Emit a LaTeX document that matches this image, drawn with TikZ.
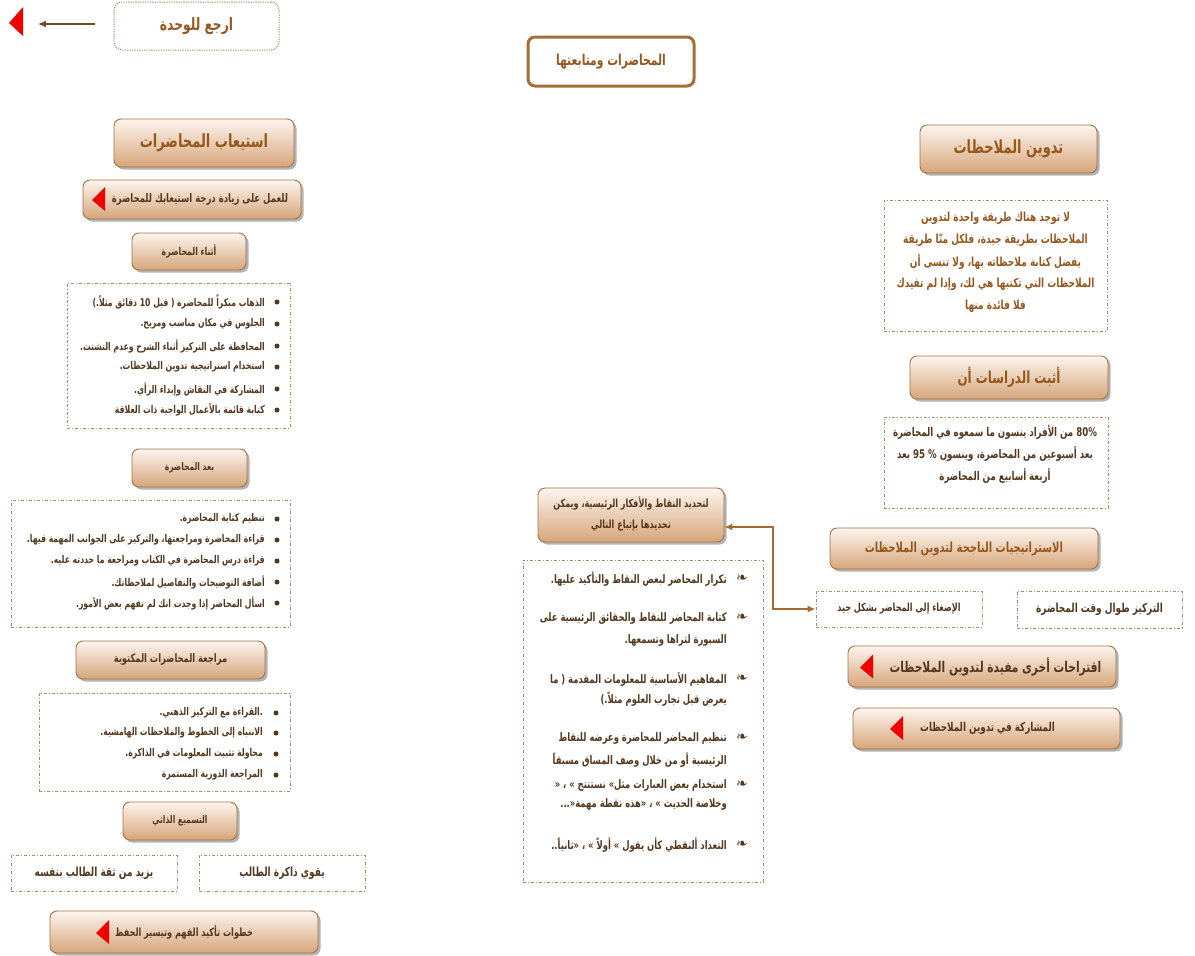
\documentclass[tikz,border=0pt]{standalone}
\usepackage{fontspec}
\newfontfamily\arabicfont[Script=Arabic,FakeStretch=0.72]{DejaVu Sans}
\newfontfamily\symfont{DejaVu Sans}
\TeXXeTstate=1
\usetikzlibrary{shadows}
\usetikzlibrary{arrows.meta}

\definecolor{headtext}{RGB}{150,88,30}
\definecolor{itemtext}{RGB}{85,55,30}
\definecolor{boxline}{RGB}{165,115,70}
\definecolor{boxtop}{RGB}{253,245,238}
\definecolor{boxbot}{RGB}{214,165,122}
\definecolor{dashline}{RGB}{175,135,95}
\definecolor{titleline}{RGB}{168,108,55}
\definecolor{linkline}{RGB}{165,105,50}
\definecolor{tipred}{RGB}{240,0,0}
\definecolor{backarrow}{RGB}{105,75,45}

\newcommand{\ar}[1]{{\arabicfont\bfseries\beginR #1\endR}}
\newcommand{\num}[1]{\beginL #1\endL{}}
\newcommand{\redtip}[2]{\fill[tipred] (#1+13,#2-12) -- (#1,#2+1) -- (#1+13,#2+12) -- cycle;}
\newcommand{\fs}[1]{\fontsize{#1}{#1}\selectfont}

\tikzset{
  headbox/.style={draw=boxline, line width=0.9pt, rounded corners=7pt,
    top color=boxtop, bottom color=boxbot, inner sep=0pt,
    drop shadow={shadow xshift=2.5pt, shadow yshift=-2.5pt, fill=black!50, opacity=0.6}},
  notebox/.style={draw=dashline, line width=0.8pt, inner sep=0pt,
    dash pattern=on 3pt off 2pt on 1pt off 2pt},
  itemline/.style={anchor=east, inner sep=0pt, text=itemtext, font=\fs{10.7}},
  bigfont/.style={text=headtext, font=\fs{18.1}},
  smallfont/.style={text=itemtext}
}

\begin{document}
\begin{tikzpicture}[x=1pt,y=-1pt]
  \useasboundingbox (0,0) rectangle (1195,956);

  % back to unit
  \node[draw=dashline, line width=1pt, dash pattern=on 1.2pt off 1.2pt, rounded corners=8pt,
    minimum width=165pt, minimum height=48pt, text=headtext, font=\fs{17}]
    (back) at (196.5,26) {\ar{ارجع للوحدة}};
  \coordinate (backfrom) at (95,24);
  \coordinate (backto) at (38,24);
  \draw[backarrow, line width=1.2pt, -{Latex[length=8pt,width=7pt]}] (backfrom) -- (backto);
  \fill[tipred] (23,7) -- (9,23) -- (23,36) -- cycle;

  % title
  \node[draw=titleline, line width=3pt, rounded corners=7pt, fill=white,
    minimum width=166pt, minimum height=49pt, text=headtext, font=\fs{15}]
    (title) at (611,61.5) {\ar{المحاضرات ومتابعتها}};

  % left column
  \node[headbox, bigfont, minimum width=180pt, minimum height=48pt] (istiab) at (204,143) {\ar{استيعاب المحاضرات}};
  \node[headbox, smallfont, font=\fs{11.8}, minimum width=218pt, minimum height=39pt] (amal) at (192,199.5) {\hspace*{16pt}\ar{للعمل على زيادة درجة استيعابك للمحاضرة}};
  \redtip{92}{199}
  \node[headbox, smallfont, font=\fs{10.8}, minimum width=114pt, minimum height=37pt] (athna) at (189,251.5) {\ar{أثناء المحاضرة}};
  \node[notebox, minimum width=223pt, minimum height=145pt] (list1) at (178.5,355.5) {};
  \foreach \y/\t in {302/{الذهاب مبكراً للمحاضرة ( قبل \num{10} دقائق مثلاً.)},
                     324/{الجلوس في مكان مناسب ومريح.},
                     346/{المحافظة على التركيز أثناء الشرح وعدم التشتت.},
                     367/{استخدام استراتيجية تدوين الملاحظات.},
                     389/{المشاركة في النقاش وإبداء الرأي.},
                     410/{كتابة قائمة بالأعمال الواجبة ذات العلاقة}} {
    \fill[itemtext] (277,\y) circle (2.5pt);
    \node[itemline] at (265,\y) {\ar{\t}};
  }

  \node[headbox, smallfont, font=\fs{10.5}, minimum width=115pt, minimum height=38pt] (baad) at (189.5,468) {\ar{بعد المحاضرة}};
  \node[notebox, minimum width=279pt, minimum height=127pt] (list2) at (150.5,563.5) {};
  \foreach \y/\t in {519/{تنظيم كتابة المحاضرة.},
                     540/{قراءة المحاضرة ومراجعتها، والتركيز على الجوانب المهمة فيها.},
                     561/{قراءة درس المحاضرة في الكتاب ومراجعة ما حددته عليه.},
                     582/{أضافة التوضيحات والتفاصيل لملاحظاتك.},
                     603/{اسأل المحاضر إذا وجدت انك لم تفهم بعض الأمور.}} {
    \fill[itemtext] (277,\y) circle (2.5pt);
    \node[itemline] at (265,\y) {\ar{\t}};
  }

  \node[headbox, smallfont, font=\fs{11.6}, minimum width=189pt, minimum height=38pt] (muraja) at (170.5,660) {\ar{مراجعة المحاضرات المكتوبة}};
  \node[notebox, minimum width=251pt, minimum height=98pt] (list3) at (164.5,742) {};
  \foreach \y/\t in {713/{.القراءة مع التركيز الذهني.},
                     733/{الانتباه إلى الخطوط والملاحظات الهامشية.},
                     754/{محاولة تثبيت المعلومات في الذاكرة.},
                     775/{المراجعة الدورية المستمرة}} {
    \fill[itemtext] (276,\y) circle (2.5pt);
    \node[itemline] at (263,\y) {\ar{\t}};
  }

  \node[headbox, smallfont, font=\fs{10.5}, minimum width=114pt, minimum height=38pt] (tasmi) at (180,821) {\ar{التسميع الذاتي}};
  \node[notebox, smallfont, font=\fs{12.5}, minimum width=166pt, minimum height=36pt] (thiqa) at (94,873) {\ar{يزيد من ثقة الطالب بنفسه}};
  \node[notebox, smallfont, font=\fs{12.5}, minimum width=166pt, minimum height=36pt] (dhakira) at (282,873) {\ar{يقوي ذاكرة الطالب}};
  \node[headbox, smallfont, font=\fs{11.3}, minimum width=268pt, minimum height=42pt] (khutuwat) at (184,932) {\ar{خطوات تأكيد الفهم وتيسير الحفظ}};
  \redtip{96}{932}

  % right column
  \node[headbox, bigfont, minimum width=177pt, minimum height=48pt] (tadwin) at (1008.5,149) {\ar{تدوين الملاحظات}};
  \node[notebox, minimum width=223pt, minimum height=131pt] (note1) at (995.5,265.5) {};
  \foreach \y/\t in {218/{لا توجد هناك طريقة واحدة لتدوين},
                     240/{الملاحظات بطريقة جيدة، فلكل منّا طريقة},
                     262/{يفضل كتابة ملاحظاته بها، ولا تنسى أن},
                     284/{الملاحظات التي تكتبها هي لك، وإذا لم تفيدك},
                     306/{فلا فائدة منها}} {
    \node[text=headtext, font=\fs{12.5}, inner sep=0pt] at (995.5,\y) {\ar{\t}};
  }
  \node[headbox, text=headtext, font=\fs{16.5}, minimum width=198pt, minimum height=43pt] (athbat) at (1009,377.5) {\ar{أثبت الدراسات أن}};
  \node[notebox, minimum width=224pt, minimum height=91pt] (note2) at (996,462.5) {};
  \foreach \y/\t in {432/{\num{80\%} من الأفراد ينسون ما سمعوه في المحاضرة},
                     454/{بعد أسبوعين من المحاضرة، وينسون \% 95 بعد},
                     476/{أربعة أسابيع من المحاضرة}} {
    \node[text=itemtext, font=\fs{12}, inner sep=0pt] at (995,\y) {\ar{\t}};
  }
  \node[headbox, text=headtext, font=\fs{13.9}, minimum width=268pt, minimum height=41pt] (strat) at (964,548.5) {\ar{الاستراتيجيات الناجحة لتدوين الملاحظات}};
  \node[notebox, smallfont, font=\fs{12.4}, minimum width=165pt, minimum height=37pt] (tarkiz) at (1099.5,609.5) {\ar{التركيز طوال وقت المحاضرة}};
  \node[notebox, smallfont, font=\fs{11.2}, minimum width=166pt, minimum height=36pt] (isgha) at (899,609) {\ar{الإصغاء إلى المحاضر بشكل جيد}};
  \node[headbox, smallfont, font=\fs{14.8}, minimum width=268pt, minimum height=41pt] (iqtirah) at (982,666.5) {\hspace*{27pt}\ar{اقتراحات أخرى مفيدة لتدوين الملاحظات}};
  \redtip{860}{666.5}
  \node[headbox, smallfont, font=\fs{12.2}, minimum width=267pt, minimum height=41pt] (musharaka) at (986.5,728.5) {\hspace*{2pt}\ar{المشاركة في تدوين الملاحظات}};
  \redtip{890}{728}

  % middle column
  \node[headbox, minimum width=186pt, minimum height=54pt] (tahdid) at (631,515) {};
  \foreach \y/\t in {504/{لتحديد النقاط والأفكار الرئيسية، ويمكن},
                     526/{تحديدها بإتباع التالي}} {
    \node[text=itemtext, font=\fs{11.2}, inner sep=0pt] at (631,\y) {\ar{\t}};
  }
  \coordinate (bend) at (773,527);
  \draw[linkline, line width=1.5pt, {Latex[length=8pt,width=7pt]}-{Latex[length=8pt,width=7pt]}]
    (tahdid.east |- bend) -- (bend) |- (isgha.west);
  \node[notebox, minimum width=240pt, minimum height=322pt] (list4) at (643,721) {};
  \foreach \y in {579,618,679,738,785,845} {
    \node[text=itemtext, font=\symfont\fs{14}, inner sep=0pt] at (742,\y) {❧};
  }
  \foreach \y/\t in {579/{تكرار المحاضر لبعض النقاط والتأكيد عليها.},
                     618/{كتابة المحاضر للنقاط والحقائق الرئيسية على},
                     640/{السبورة لتراها وتسمعها.},
                     679/{المفاهيم الأساسية للمعلومات المقدمة ( ما},
                     699/{يعرض قبل تجارب العلوم مثلاً.)},
                     738/{تنظيم المحاضر للمحاضرة وعرضه للنقاط},
                     760/{الرئيسية أو من خلال وصف المساق مسبقاً},
                     785/{استخدام بعض العبارات مثل» نستنتج » ، «},
                     804/{وخلاصة الحديث » ، «هذه نقطة مهمة«...},
                     845/{التعداد ألنقطي كأن يقول » أولاً » ، «ثانياً..}} {
    \node[itemline, font=\fs{11.7}] at (727,\y) {\ar{\t}};
  }
\end{tikzpicture}
\end{document}
